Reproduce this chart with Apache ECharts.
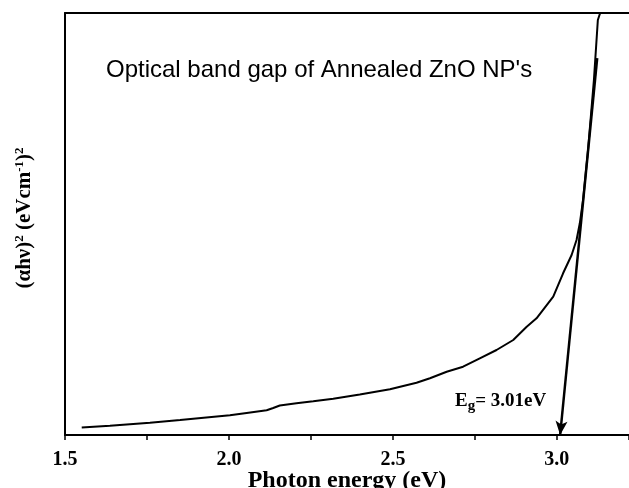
<!DOCTYPE html>
<html>
<head>
<meta charset="utf-8">
<script src="https://cdn.jsdelivr.net/npm/echarts@6/dist/echarts.min.js"></script>
<style>html,body{margin:0;padding:0;background:#fff}#c{width:629px;height:488px}</style>
</head>
<body>
<div id="c"></div>
<script>
// Photon energy (eV)
var energy = [1.551,1.637,1.759,1.851,2.003,2.054,2.115,2.135,2.155,2.206,2.257,2.318,2.399,2.491,2.572,2.613,2.664,2.714,2.765,2.816,2.867,2.908,2.938,2.989,3.019,3.045,3.060,3.070,3.080,3.090,3.095,3.104,3.113,3.120,3.125,3.131,3.140];
// (alpha h nu)^2, arbitrary units
var absorb = [1.78,2.2,2.91,3.55,4.67,5.21,5.85,6.40,6.99,7.51,7.99,8.60,9.60,10.83,12.39,13.44,15.0,16.18,18.18,20.14,22.51,25.66,27.65,32.77,38.32,42.65,46.21,50.17,55.69,63.58,67.54,75.83,84.12,92.42,98.34,99.76,100.7];
// Tangent (extrapolation) line: [x, y] ends
var tangentStart = [3.01, 0];
var tangentEnd = [3.123, 89.3];
var xTicks = [1.5, 2.0, 2.5, 3.0];
var titleText = "Optical band gap of Annealed ZnO NP's";
var egLabel = "3.01eV";

var chart = echarts.init(document.getElementById('c'));
var serif = '"Liberation Serif","DejaVu Serif",serif';
chart.setOption({
  animation: false,
  grid: {left: 65, top: 13, right: 0, bottom: 53, show: false, containLabel: false, outerBoundsMode: 'none'},
  xAxis: [{
    type: 'value', min: 1.5, max: 3.22, interval: 0.5,
    axisLine: {show: true, onZero: false, lineStyle: {color: '#000', width: 2}},
    axisTick: {show: true, inside: false, length: 5, lineStyle: {color: '#000', width: 1.5}},
    minorTick: {show: true, splitNumber: 2, length: 5, lineStyle: {color: '#000', width: 1.5}},
    splitLine: {show: false},
    axisLabel: {
      color: '#000', fontFamily: serif, fontWeight: 'bold', fontSize: 20, margin: 15,
      showMaxLabel: false,
      formatter: function (v) { return xTicks.indexOf(Math.round(v*10)/10) >= 0 ? v.toFixed(1) : ''; }
    },
    name: 'Photon energy (eV)', nameLocation: 'middle', nameGap: 34, nameMoveOverlap: false,
    nameTextStyle: {color: '#000', fontFamily: serif, fontWeight: 'bold', fontSize: 24}
  }, {
    type: 'value', position: 'top', min: 1.5, max: 3.22,
    axisLine: {show: true, onZero: false, lineStyle: {color: '#000', width: 2}},
    axisTick: {show: false}, axisLabel: {show: false}, splitLine: {show: false}
  }],
  yAxis: {
    type: 'value', min: 0, max: 100,
    axisLine: {show: true, lineStyle: {color: '#000', width: 2}},
    axisTick: {show: false}, axisLabel: {show: false}, splitLine: {show: false},
    name: '{b|(αhν)}{s|2}{b| (eVcm}{s|-1}{b|)}{s|2}', nameLocation: 'middle', nameGap: 30, nameRotate: 90,
    nameTextStyle: {
      color: '#000', fontFamily: serif, fontWeight: 'bold', fontSize: 21, padding: [0, 0, 0, 12],
      rich: {
        b: {fontFamily: serif, fontWeight: 'bold', fontSize: 21, color: '#000', lineHeight: 22, verticalAlign: 'bottom'},
        s: {fontFamily: serif, fontWeight: 'bold', fontSize: 13, color: '#000', lineHeight: 22, verticalAlign: 'top'}
      }
    }
  },
  graphic: [
    {type: 'text', left: 106, top: 58, style: {text: titleText, font: '24px "Liberation Sans", Arial, sans-serif', fill: '#000'}},
    {type: 'text', left: 455, top: 389, style: {
      text: '{b|E}{g|g}{b|= ' + egLabel + '}',
      rich: {
        b: {font: 'bold 19px "Liberation Serif", serif', fill: '#000', lineHeight: 22, verticalAlign: 'top'},
        g: {font: 'bold 15px "Liberation Serif", serif', fill: '#000', lineHeight: 22, verticalAlign: 'bottom', padding: [10, 0, 0, 0]}
      }
    }}
  ],
  series: [{
    type: 'line', xAxisIndex: 0, data: energy.map(function (e, i) { return [e, absorb[i]]; }),
    showSymbol: false, symbol: 'none', clip: true, smooth: false,
    lineStyle: {color: '#000', width: 2},
    markLine: {
      silent: true, symbol: ['arrow', 'none'], symbolSize: [9, 14], animation: false,
      label: {show: false},
      lineStyle: {color: '#000', width: 2.5, type: 'solid'},
      data: [[{coord: tangentStart}, {coord: tangentEnd}]]
    }
  }]
});
</script>
</body>
</html>
